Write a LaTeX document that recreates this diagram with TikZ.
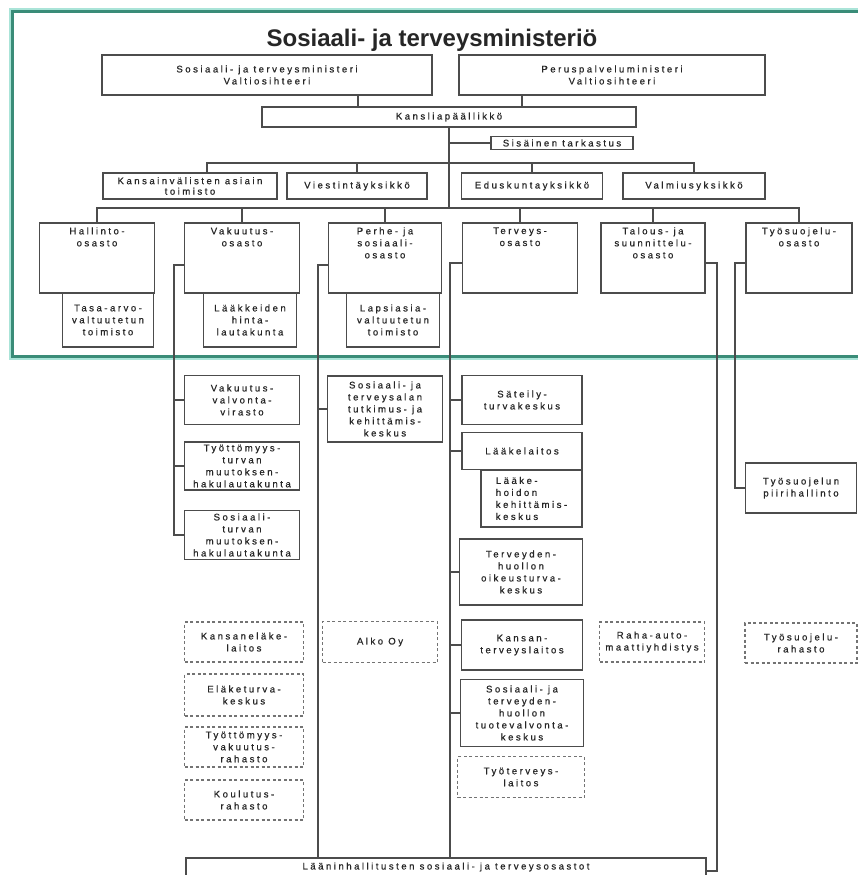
\documentclass[tikz,border=0pt]{standalone}
\usepackage{fontspec}
\setmainfont{Liberation Sans}
\newfontfamily\orgfont[LetterSpace=26,FakeBold=0.6]{Liberation Sans}
\usetikzlibrary{positioning}
\definecolor{stmteal}{RGB}{58,140,120}
\definecolor{stmglow}{RGB}{170,228,216}

\begin{document}
\begin{tikzpicture}[x=1pt,y=-1pt]
\tikzstyle{unit}=[draw=black!70,line width=1.6pt,fill=white,align=center,inner sep=1pt,text=black!85,font=\orgfont\fontsize{9.6}{12}\selectfont]
\tikzstyle{laitos}=[unit,draw=black!55,dash pattern=on 3pt off 2.5pt]
\tikzstyle{osasto}=[unit,minimum height=70]
\tikzstyle{otext}=[align=center,inner sep=0pt,text=black!85,font=\orgfont\fontsize{9.6}{12}\selectfont]
\tikzstyle{conn}=[draw=black!70,line width=1.6pt]
\useasboundingbox[fill=white] (0,0) rectangle (858,875);
% ministry frame
\draw[stmglow,line width=2pt] (870,9.5) -- (9.5,9.5) -- (9.5,358.5) -- (870,358.5);
\draw[stmteal,line width=3pt] (870,12) -- (12,12) -- (12,356) -- (870,356);
\node[font=\fontsize{24}{28}\selectfont\bfseries,text=black!85] (title) at (432,40) {Sosiaali- ja terveysministeriö};
% ministers
\node[unit,minimum width=330,minimum height=40] (sm) at (267,75) {Sosiaali- ja terveysministeri\\Valtiosihteeri};
\node[unit,minimum width=306,minimum height=40] (pm) at (612,75) {Peruspalveluministeri\\Valtiosihteeri};
\node[unit,minimum width=374,minimum height=20] (kp) at (449,117) {Kansliapäällikkö};
\node[unit,minimum width=142,minimum height=13,inner sep=0pt] (st) at (562,143) {Sisäinen tarkastus};
% units
\node[unit,minimum width=174,minimum height=26,inner sep=0pt,font=\orgfont\fontsize{9.6}{10.5}\selectfont] (kaa) at (190,186) {Kansainvälisten asiain\\toimisto};
\node[unit,minimum width=140,minimum height=26] (vy) at (357,186) {Viestintäyksikkö};
\node[unit,minimum width=141,minimum height=26] (ey) at (532,186) {Eduskuntayksikkö};
\node[unit,minimum width=142,minimum height=26] (vmy) at (694,186) {Valmiusyksikkö};
% departments
\node[osasto,minimum width=115] (hal) at (97,258) {};
\node[osasto,minimum width=115] (vak) at (242,258) {};
\node[osasto,minimum width=113] (per) at (385,258) {};
\node[osasto,minimum width=115] (ter) at (520,258) {};
\node[osasto,minimum width=104] (tal) at (653,258) {};
\node[osasto,minimum width=106] (tyo) at (799,258) {};
\node[otext,below=5pt of hal.north] (halt) {Hallinto-\\osasto};
\node[otext,below=5pt of vak.north] (vakt) {Vakuutus-\\osasto};
\node[otext,below=5pt of per.north] (pert) {Perhe- ja\\sosiaali-\\osasto};
\node[otext,below=5pt of ter.north] (tert) {Terveys-\\osasto};
\node[otext,below=5pt of tal.north] (talt) {Talous- ja\\suunnittelu-\\osasto};
\node[otext,below=5pt of tyo.north] (tyot) {Työsuojelu-\\osasto};
\node[unit,minimum width=91,minimum height=54] (tas) at (108,320) {Tasa-arvo-\\valtuutetun\\toimisto};
\node[unit,minimum width=93,minimum height=54] (lhl) at (250,320) {Lääkkeiden\\hinta-\\lautakunta};
\node[unit,minimum width=93,minimum height=54] (lav) at (393,320) {Lapsiasia-\\valtuutetun\\toimisto};
% agencies
\node[unit,minimum width=115,minimum height=49] (vvv) at (242,400) {Vakuutus-\\valvonta-\\virasto};
\node[unit,minimum width=115,minimum height=48] (tyt) at (242,466) {Työttömyys-\\turvan\\muutoksen-\\hakulautakunta};
\node[unit,minimum width=115,minimum height=49] (sos) at (242,535) {Sosiaali-\\turvan\\muutoksen-\\hakulautakunta};
\node[unit,minimum width=115,minimum height=66] (stk) at (385,409) {Sosiaali- ja\\terveysalan\\tutkimus- ja\\kehittämis-\\keskus};
\node[unit,minimum width=120,minimum height=49] (stuk) at (522,400) {Säteily-\\turvakeskus};
\node[unit,minimum width=120,minimum height=37] (ll) at (522,451) {Lääkelaitos};
\node[unit,minimum width=101,minimum height=57,align=left] (lhk) at (531.5,498.5) {Lääke-\\hoidon\\kehittämis-\\keskus};
\node[unit,minimum width=123,minimum height=66] (tok) at (521,572) {Terveyden-\\huollon\\oikeusturva-\\keskus};
\node[unit,minimum width=121,minimum height=50] (ktl) at (522,645) {Kansan-\\terveyslaitos};
\node[unit,minimum width=123,minimum height=67] (stv) at (522,713) {Sosiaali- ja\\terveyden-\\huollon\\tuotevalvonta-\\keskus};
\node[unit,minimum width=111,minimum height=50] (tpl) at (801,488) {Työsuojelun\\piirihallinto};
% institutions
\node[laitos,minimum width=119,minimum height=40] (kel) at (244,642) {Kansaneläke-\\laitos};
\node[laitos,minimum width=119,minimum height=42] (etk) at (244,695) {Eläketurva-\\keskus};
\node[laitos,minimum width=119,minimum height=40] (tvr) at (244,747) {Työttömyys-\\vakuutus-\\rahasto};
\node[laitos,minimum width=119,minimum height=40] (kr) at (244,800) {Koulutus-\\rahasto};
\node[laitos,minimum width=115,minimum height=41] (alko) at (380,642) {Alko Oy};
\node[laitos,minimum width=127,minimum height=41] (ttl) at (521,777) {Työterveys-\\laitos};
\node[laitos,minimum width=105,minimum height=40] (ray) at (652,642) {Raha-auto-\\maattiyhdistys};
\node[laitos,minimum width=112,minimum height=40] (tsr) at (801,643) {Työsuojelu-\\rahasto};
\node[unit,minimum width=520,minimum height=18] (lh) at (446,867) {Lääninhallitusten sosiaali- ja terveysosastot};
% connectors
\coordinate (t1) at ([xshift=91pt]sm.south);
\coordinate (t2) at ([xshift=-90pt]pm.south);
\draw[conn] (t1) -- (t1 |- kp.north);
\draw[conn] (t2) -- (t2 |- kp.north);
\coordinate (b1) at (449,163);
\coordinate (b2) at (449,208);
\draw[conn] (kp.south) -- (b2);
\draw[conn] (st.west) -- (st.west -| kp.south);
\coordinate (k1) at ([xshift=17pt]kaa.north);
\draw[conn] (k1) -- (k1 |- b1) -- (vmy.north |- b1) -- (vmy.north);
\draw[conn] (vy.north) -- (vy.north |- b1);
\draw[conn] (ey.north) -- (ey.north |- b1);
\draw[conn] (hal.north) -- (hal.north |- b2) -- (tyo.north |- b2) -- (tyo.north);
\foreach \o in {vak,per,ter,tal}
  \draw[conn] (\o.north) -- (\o.north |- b2);
% side lines
\coordinate (vl) at ([xshift=-10pt,yshift=-7pt]vak.west);
\draw[conn] ([yshift=-7pt]vak.west) -- (vl) |- (sos.west);
\foreach \b in {vvv,tyt}
  \draw[conn] (\b.west) -- (\b.west -| vl);
\coordinate (pl) at ([xshift=-10pt,yshift=-7pt]per.west);
\draw[conn] ([yshift=-7pt]per.west) -- (pl) -- (pl |- lh.north);
\draw[conn] (stk.west) -- (stk.west -| pl);
\coordinate (tl) at ([xshift=-12pt,yshift=-5pt]ter.west);
\draw[conn] ([yshift=-5pt]ter.west) -- (tl) -- (tl |- lh.north);
\foreach \b in {stuk,ll,tok,ktl,stv}
  \draw[conn] (\b.west) -- (\b.west -| tl);
\coordinate (rl) at ([xshift=11pt,yshift=-5pt]tal.east);
\draw[conn] ([yshift=-5pt]tal.east) -- (rl) |- ([yshift=-4pt]lh.east);
\coordinate (yl) at ([xshift=-10pt,yshift=-5pt]tyo.west);
\draw[conn] ([yshift=-5pt]tyo.west) -- (yl) |- (tpl.west);
\end{tikzpicture}
\end{document}
